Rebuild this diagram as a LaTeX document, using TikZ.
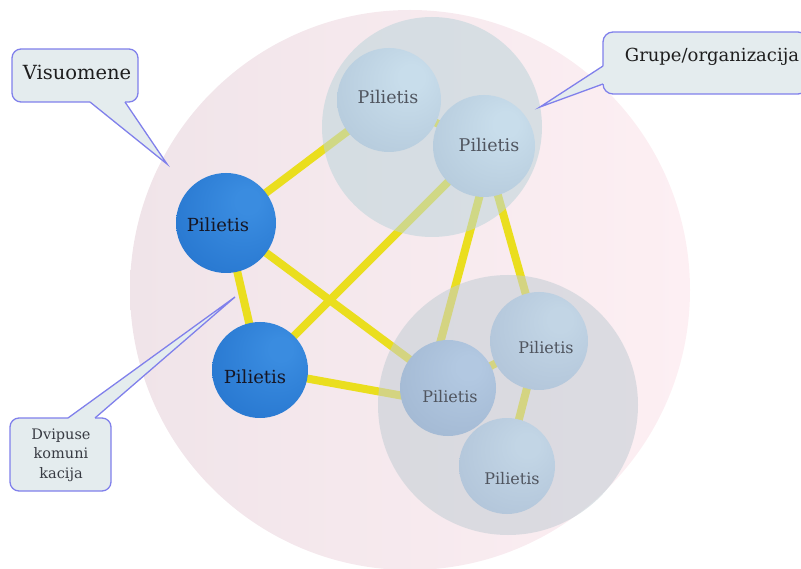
\documentclass[tikz,border=0pt]{standalone}
\usepackage{fontspec}
\setmainfont{DejaVu Serif}
\usetikzlibrary{calc}
\pgfdeclarelayer{bg}
\pgfdeclarelayer{lines}
\pgfdeclarelayer{groups}
\pgfsetlayers{bg,lines,groups,main}
\definecolor{pinkL}{RGB}{240,228,233}
\definecolor{pinkR}{RGB}{253,239,243}
\definecolor{topgrp}{RGB}{188,212,218}
\definecolor{botgrp}{RGB}{194,205,212}
\definecolor{yel}{RGB}{234,222,30}
\definecolor{callfill}{RGB}{228,236,238}
\definecolor{calldraw}{RGB}{128,128,235}
\definecolor{bhi}{RGB}{58,140,224}
\definecolor{bmid}{RGB}{42,122,210}
\definecolor{bdark}{RGB}{33,98,182}
\definecolor{aHi}{RGB}{200,221,235}
\definecolor{aMid}{RGB}{184,205,222}
\definecolor{aDark}{RGB}{162,182,203}
\definecolor{bbHi}{RGB}{194,213,229}
\definecolor{bbMid}{RGB}{180,199,219}
\definecolor{bbDark}{RGB}{158,176,199}
\definecolor{cHi}{RGB}{178,200,225}
\definecolor{cMid}{RGB}{165,187,213}
\definecolor{cDark}{RGB}{144,164,194}
\definecolor{txtblue}{RGB}{22,22,36}
\definecolor{txtlight}{RGB}{80,85,95}
\definecolor{txtcall}{RGB}{30,30,30}
\pgfdeclareradialshading{sphblue}{\pgfpoint{12bp}{12bp}}{color(0bp)=(bhi); color(6bp)=(bhi); color(32bp)=(bmid); color(66bp)=(bdark)}
\pgfdeclareradialshading{sphA}{\pgfpoint{12bp}{12bp}}{color(0bp)=(aHi); color(6bp)=(aHi); color(32bp)=(aMid); color(66bp)=(aDark)}
\pgfdeclareradialshading{sphB}{\pgfpoint{12bp}{12bp}}{color(0bp)=(bbHi); color(6bp)=(bbHi); color(32bp)=(bbMid); color(66bp)=(bbDark)}
\pgfdeclareradialshading{sphC}{\pgfpoint{12bp}{12bp}}{color(0bp)=(cHi); color(6bp)=(cHi); color(32bp)=(cMid); color(66bp)=(cDark)}
\begin{document}
\begin{tikzpicture}[x=1pt,y=-1pt,
  sph/.style={circle, inner sep=0pt, shade},
  bluesph/.style={sph, shading=sphblue},
  asph/.style={sph, shading=sphA},
  bsph/.style={sph, shading=sphB},
  csph/.style={sph, shading=sphC},
  lblblue/.style={text=txtblue, font=\fontsize{18}{20}\selectfont, inner sep=0pt},
  lbltop/.style={text=txtlight, font=\fontsize{17.5}{20}\selectfont, inner sep=0pt},
  lblbot/.style={text=txtlight, font=\fontsize{16}{19}\selectfont, inner sep=0pt},
  conn/.style={draw=yel, line width=8pt},
  grp/.style={circle, inner sep=0pt, fill opacity=0.55},
  callbox/.style={fill=callfill, draw=calldraw, line width=1.3pt, rounded corners=9pt},
  calltail/.style={draw=calldraw, line width=1.3pt, line join=miter},
  calltext/.style={text=txtcall, inner sep=0pt}
]
\useasboundingbox (0,0) rectangle (801,569);

% background society circle
\begin{pgfonlayer}{bg}
  \node[circle, inner sep=0pt, minimum size=560pt, left color=pinkL, right color=pinkR] (soc) at (410,290) {};
\end{pgfonlayer}

% spheres
\node[bluesph, minimum size=100pt, label={[lblblue, shift={(-8,2)}]center:Pilietis}] (p1) at (226,223) {};
\node[bluesph, minimum size=96pt, label={[lblblue, shift={(-5,7)}]center:Pilietis}] (p2) at (260,370) {};
\node[asph, minimum size=104pt, label={[lbltop, shift={(-1,-3)}]center:Pilietis}] (p3) at (389,100) {};
\node[asph, minimum size=102pt, label={[lbltop, shift={(5,-1)}]center:Pilietis}] (p4) at (484,146) {};
\node[csph, minimum size=96pt, label={[lblbot, shift={(2,9)}]center:Pilietis}] (p5) at (448,388) {};
\node[bsph, minimum size=98pt, label={[lblbot, shift={(7,7)}]center:Pilietis}] (p6) at (539,341) {};
\node[bsph, minimum size=96pt, label={[lblbot, shift={(5,13)}]center:Pilietis}] (p7) at (507,466) {};

% groups
\begin{pgfonlayer}{groups}
  \node[grp, fill=topgrp, minimum size=220pt] (g1) at (432,127) {};
  \node[grp, fill=botgrp, minimum size=260pt] (g2) at (508,405) {};
\end{pgfonlayer}

% connectors
\begin{pgfonlayer}{lines}
  \draw[conn] (p1.center) -- (p3.center);
  \draw[conn] (p1.center) -- (p2.center);
  \draw[conn] (p1.center) -- (p5.center);
  \draw[conn] (p2.center) -- (p4.center);
  \draw[conn] (p2.center) -- ($(p5.center)+(0,16)$);
  \draw[conn] (p3.center) -- (p4.center);
  \draw[conn] ($(p4.center)+(9,0)$) -- ($(p5.center)+(-20,0)$);
  \draw[conn] (p4.center) -- (p6.center);
  \draw[conn] (p5.center) -- (p6.center);
  \draw[conn] (p6.center) -- (p7.center);
\end{pgfonlayer}

% callout: Visuomene
\draw[callbox] (12,49) rectangle (138,102);
\coordinate (vtip) at (167,164);
\fill[callfill] (90,95) -- (90,102) -- (vtip) -- (125,102) -- (125,95) -- cycle;
\draw[calltail] (90,102) -- (vtip) -- (125,102);
\node[calltext, anchor=base, font=\fontsize{19.5}{23}\selectfont] (vis) at (77,80) {Visuomene};

% callout: Grupe/organizacija
\draw[callbox, rounded corners=10pt] (603,32) rectangle (808,94);
\coordinate (gtip) at (540,107);
\fill[callfill] (610,66) -- (603,66) -- (gtip) -- (603,84) -- (610,84) -- cycle;
\draw[calltail] (603,66) -- (gtip) -- (603,84);
\node[calltext, anchor=base, font=\fontsize{18}{22}\selectfont] (grp) at (712,62) {Grupe/organizacija};

% callout: Dvipuse komunikacija
\draw[callbox] (10,418) rectangle (111,491);
\coordinate (dtip) at (235,297);
\fill[callfill] (68,425) -- (68,418) -- (dtip) -- (95,418) -- (95,425) -- cycle;
\draw[calltail] (68,418) -- (dtip) -- (95,418);
\node[calltext, text=txtlight!70!black, align=center, font=\fontsize{14.5}{19.5}\selectfont] (dvi) at (61,455) {Dvipuse\\komuni\\kacija};
\end{tikzpicture}
\end{document}
